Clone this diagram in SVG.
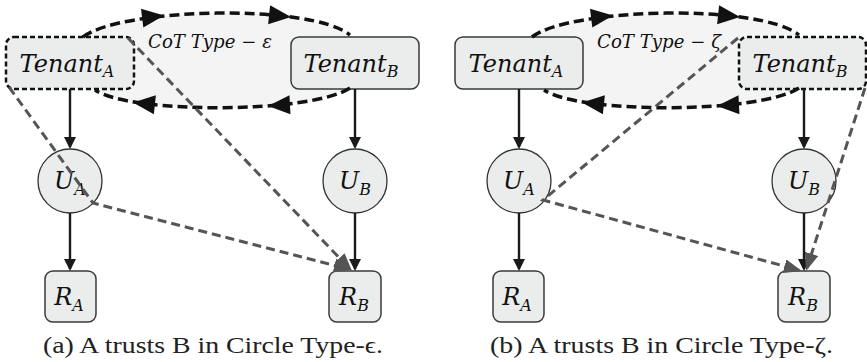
<svg xmlns="http://www.w3.org/2000/svg" width="867" height="362" viewBox="0 0 867 362">
<style>
.box{fill:#ebedec;stroke:#3a3a3a;stroke-width:1.5}
.dbox{fill:#ebedec;stroke:#111;stroke-width:2.5;stroke-dasharray:5 3}
.circ{fill:#ebedec;stroke:#333;stroke-width:1.3}
.lbl{font-family:"DejaVu Serif",serif;font-style:italic;font-size:24px;fill:#111;text-anchor:middle}
.sub{font-size:16px}
.cot{font-family:"DejaVu Serif",serif;font-style:italic;font-size:18px;fill:#111}
.cap{font-family:"Liberation Serif",serif;font-size:23px;fill:#222}
.ell{fill:#f4f4f4;stroke:none}
.arc{fill:none;stroke:#111;stroke-width:3.5;stroke-dasharray:10 5}
.solid{fill:none;stroke:#1a1a1a;stroke-width:2.4}
.gray{fill:none;stroke:#555;stroke-width:3;stroke-dasharray:9 5}
</style>
<defs>
<marker id="ah" markerUnits="userSpaceOnUse" viewBox="0 0 12 12" markerWidth="12" markerHeight="12" refX="10" refY="6" orient="auto"><path d="M0,0 L12,6 L0,12 z" fill="#1a1a1a"/></marker>
<marker id="gh" markerUnits="userSpaceOnUse" viewBox="0 0 18 14" markerWidth="18" markerHeight="14" refX="15" refY="7" orient="auto"><path d="M0,0 L18,7 L0,14 z" fill="#555"/></marker>
<path id="bigah" d="M0,0 L-22,-9.5 L-22,9.5 z" fill="#111"/>
</defs>

<g id="cot-a-area"><path class="ell" d="M83,37 C120,8 310,3 350,35 L350,88 C310,114 130,114 95,90 Z"/></g>
<g id="cot-b-area"><path class="ell" d="M532,37 C569,8 759,3 799,35 L799,88 C759,114 579,114 544,90 Z"/></g>

<g id="a-tenantA"><rect class="dbox" x="6" y="37" width="128" height="52" rx="8"/><text class="lbl" x="67" y="72">Tenant<tspan class="sub" dy="5">A</tspan></text></g>
<g id="a-tenantB"><rect class="box" x="291" y="37" width="128" height="52" rx="8"/><text class="lbl" x="351" y="72">Tenant<tspan class="sub" dy="5">B</tspan></text></g>
<g id="a-UA"><circle class="circ" cx="70" cy="181" r="32"/><text class="lbl" x="70" y="189">U<tspan class="sub" dy="6">A</tspan></text></g>
<g id="a-UB"><circle class="circ" cx="355" cy="181" r="32"/><text class="lbl" x="355" y="189">U<tspan class="sub" dy="6">B</tspan></text></g>
<g id="a-RA"><rect class="box" x="45" y="271" width="51" height="51" rx="8"/><text class="lbl" x="69" y="305">R<tspan class="sub" dy="6">A</tspan></text></g>
<g id="a-RB"><rect class="box" x="329" y="271" width="52" height="51" rx="8"/><text class="lbl" x="354" y="305">R<tspan class="sub" dy="6">B</tspan></text></g>

<g id="b-tenantA"><rect class="box" x="455" y="37" width="128" height="52" rx="8"/><text class="lbl" x="516" y="72">Tenant<tspan class="sub" dy="5">A</tspan></text></g>
<g id="b-tenantB"><rect class="dbox" x="739" y="37" width="127" height="52" rx="8"/><text class="lbl" x="800" y="72">Tenant<tspan class="sub" dy="5">B</tspan></text></g>
<g id="b-UA"><circle class="circ" cx="519" cy="181" r="32"/><text class="lbl" x="519" y="189">U<tspan class="sub" dy="6">A</tspan></text></g>
<g id="b-UB"><circle class="circ" cx="804" cy="181" r="32"/><text class="lbl" x="804" y="189">U<tspan class="sub" dy="6">B</tspan></text></g>
<g id="b-RA"><rect class="box" x="493" y="271" width="51" height="51" rx="8"/><text class="lbl" x="517" y="305">R<tspan class="sub" dy="6">A</tspan></text></g>
<g id="b-RB"><rect class="box" x="778" y="271" width="52" height="51" rx="8"/><text class="lbl" x="803" y="305">R<tspan class="sub" dy="6">B</tspan></text></g>

<g id="connectors">
<path class="arc" d="M83,37 C120,8 310,3 350,35"/>
<path class="arc" d="M350,88 C310,114 130,114 95,90"/>
<use href="#bigah" transform="translate(164,15.5) rotate(-7)"/>
<use href="#bigah" transform="translate(291,17) rotate(6)"/>
<use href="#bigah" transform="translate(268,106) rotate(177)"/>
<use href="#bigah" transform="translate(133,102.5) rotate(186)"/>
<path class="arc" d="M532,37 C569,8 759,3 799,35"/>
<path class="arc" d="M799,88 C759,114 579,114 544,90"/>
<use href="#bigah" transform="translate(613,15.5) rotate(-7)"/>
<use href="#bigah" transform="translate(740,17) rotate(6)"/>
<use href="#bigah" transform="translate(717,106) rotate(177)"/>
<use href="#bigah" transform="translate(582,102.5) rotate(186)"/>

<line class="solid" x1="70" y1="89" x2="70" y2="147" marker-end="url(#ah)"/>
<line class="solid" x1="70" y1="213" x2="70" y2="269" marker-end="url(#ah)"/>
<line class="solid" x1="355" y1="89" x2="355" y2="147" marker-end="url(#ah)"/>
<line class="solid" x1="355" y1="213" x2="355" y2="269" marker-end="url(#ah)"/>
<line class="solid" x1="519" y1="89" x2="519" y2="147" marker-end="url(#ah)"/>
<line class="solid" x1="519" y1="213" x2="519" y2="269" marker-end="url(#ah)"/>
<line class="solid" x1="804" y1="89" x2="804" y2="147" marker-end="url(#ah)"/>
<line class="solid" x1="804" y1="213" x2="804" y2="269" marker-end="url(#ah)"/>

<path class="gray" d="M9,87 L93,203 L349,269.2" marker-end="url(#gh)"/>
<path class="gray" d="M128,38 L349.9,268.8" marker-end="url(#gh)"/>
<path class="gray" d="M738,38 L543,200 L799,270.2" marker-end="url(#gh)"/>
<path class="gray" d="M865,88 L806.9,268.1" marker-end="url(#gh)"/>
</g>

<text class="cot" x="148" y="48" textLength="124" lengthAdjust="spacingAndGlyphs">CoT Type − ε</text>
<text class="cot" x="597" y="48" textLength="124" lengthAdjust="spacingAndGlyphs">CoT Type − ζ</text>
<text class="cap" x="43" y="353" textLength="340" lengthAdjust="spacingAndGlyphs">(a) A trusts B in Circle Type-ϵ.</text>
<text class="cap" x="490" y="353" textLength="343" lengthAdjust="spacingAndGlyphs">(b) A trusts B in Circle Type-ζ.</text>
</svg>
